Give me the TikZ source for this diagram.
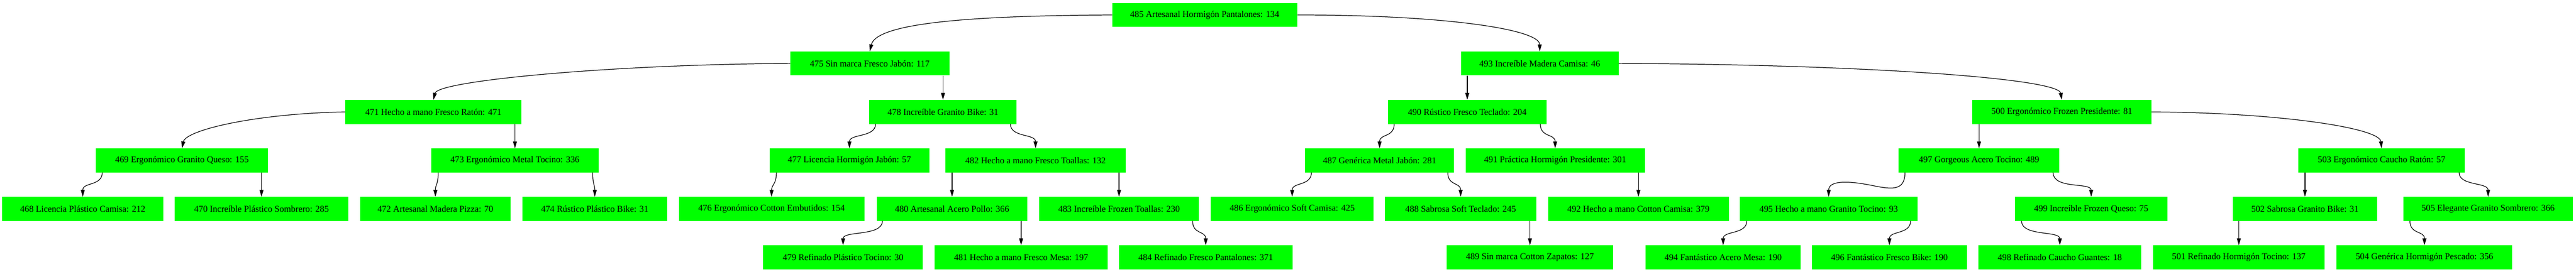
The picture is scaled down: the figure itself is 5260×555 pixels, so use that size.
\documentclass[tikz,border=0pt]{standalone}
\usepackage{fontspec}
\setmainfont{Liberation Serif}
\usetikzlibrary{arrows.meta}
\tikzset{
  gbox/.style={rectangle, fill={rgb,255:red,0;green,255;blue,0}, draw=none,
    minimum height=49pt, inner sep=0pt, text=black,
    font=\fontsize{18.3}{20}\selectfont},
  conn/.style={draw=black, line width=1.3pt, -{Triangle[length=14pt,width=8pt]}},
}
\newcommand\gnode[5]{\node[gbox, minimum width=#4pt] (#1) at (#2,#3) {#5};}
\begin{document}
\begin{tikzpicture}[x=1pt,y=-1pt]
\useasboundingbox (0,0) rectangle (5260,555);
% row 0
\gnode{n485}{2460}{30.5}{378}{485 Artesanal Hormigón Pantalones: 134}
% row 1
\gnode{n475}{1776}{129.5}{325}{475 Sin marca Fresco Jabón: 117}
\gnode{n493}{3144}{129.5}{322}{493 Increíble Madera Camisa: 46}
% row 2
\gnode{n471}{885}{228.5}{360}{471 Hecho a mano Fresco Ratón: 471}
\gnode{n478}{1925.5}{228.5}{301}{478 Increíble Granito Bike: 31}
\gnode{n490}{2996}{228.5}{324}{490 Rústico Fresco Teclado: 204}
\gnode{n500}{4210}{228.5}{366}{500 Ergonómico Frozen Presidente: 81}
% row 3
\gnode{n469}{371.5}{327.5}{351}{469 Ergonómico Granito Queso: 155}
\gnode{n473}{1051.5}{327.5}{341}{473 Ergonómico Metal Tocino: 336}
\gnode{n477}{1734.5}{327.5}{326}{477 Licencia Hormigón Jabón: 57}
\gnode{n482}{2114.5}{327.5}{368}{482 Hecho a mano Fresco Toallas: 132}
\gnode{n487}{2817}{327.5}{304}{487 Genérica Metal Jabón: 281}
\gnode{n491}{3175.5}{327.5}{366}{491 Práctica Hormigón Presidente: 301}
\gnode{n497}{4041}{327.5}{328}{497 Gorgeous Acero Tocino: 489}
\gnode{n503}{4863}{327.5}{340}{503 Ergonómico Caucho Ratón: 57}
% row 4
\gnode{n468}{169}{426.5}{330}{468 Licencia Plástico Camisa: 212}
\gnode{n470}{534}{426.5}{354}{470 Increíble Plástico Sombrero: 285}
\gnode{n472}{889}{426.5}{308}{472 Artesanal Madera Pizza: 70}
\gnode{n474}{1214.5}{426.5}{295}{474 Rústico Plástico Bike: 31}
\gnode{n476}{1575.5}{426.5}{379}{476 Ergonómico Cotton Embutidos: 154}
\gnode{n480}{1944}{426.5}{308}{480 Artesanal Acero Pollo: 366}
\gnode{n483}{2285}{426.5}{326}{483 Increíble Frozen Toallas: 230}
\gnode{n486}{2638.5}{426.5}{333}{486 Ergonómico Soft Camisa: 425}
\gnode{n488}{2982.5}{426.5}{309}{488 Sabrosa Soft Teclado: 245}
\gnode{n492}{3345.5}{426.5}{369}{492 Hecho a mano Cotton Camisa: 379}
\gnode{n495}{3734}{426.5}{362}{495 Hecho a mano Granito Tocino: 93}
\gnode{n499}{4270}{426.5}{312}{499 Increíble Frozen Queso: 75}
\gnode{n502}{4706.5}{426.5}{295}{502 Sabrosa Granito Bike: 31}
\gnode{n505}{5080.5}{426.5}{347}{505 Elegante Granito Sombrero: 366}
% row 5
\gnode{n479}{1721.5}{525.5}{326}{479 Refinado Plástico Tocino: 30}
\gnode{n481}{2085}{525.5}{353}{481 Hecho a mano Fresco Mesa: 197}
\gnode{n484}{2462}{525.5}{354}{484 Refinado Fresco Pantalones: 371}
\gnode{n489}{3124}{525.5}{340}{489 Sin marca Cotton Zapatos: 127}
\gnode{n494}{3518.5}{525.5}{317}{494 Fantástico Acero Mesa: 190}
\gnode{n496}{3858}{525.5}{316}{496 Fantástico Fresco Bike: 190}
\gnode{n498}{4206}{525.5}{333}{498 Refinado Caucho Guantes: 18}
\gnode{n501}{4571.5}{525.5}{351}{501 Refinado Hormigón Tocino: 137}
\gnode{n504}{4950.5}{525.5}{359}{504 Genérica Hormigón Pescado: 356}
% edges level 0-1
\draw[conn] (n485.west) .. controls +(-271,1.5) and +(14,-60) .. (n475.north);
\draw[conn] (n485.east) .. controls +(300,0) and +(0,-45) .. (n493.north);
% level 1-2
\draw[conn] (n475.west) .. controls +(-364,2) and +(9,-39) .. (n471.north);
\draw[conn] (n478.north |- n475.south) -- (n478.north);
\draw[conn] (n490.north |- n493.south) -- (n490.north);
\draw[conn] (n493.east) .. controls +(495,2) and +(-7,-44) .. (n500.north);
% level 2-3
\draw[conn] (n471.west) .. controls +(-185,3.5) and +(8,-37) .. (n469.north);
\draw[conn] (n473.north |- n471.south) -- (n473.north);
\draw[conn] ([xshift=13pt]n478.south west) .. controls +(0,28) and +(0,-30) .. (n477.north);
\draw[conn] ([xshift=-13pt]n478.south east) .. controls +(0,28) and +(0,-30) .. (n482.north);
\draw[conn] ([xshift=13pt]n490.south west) .. controls +(0,28) and +(0,-30) .. (n487.north);
\draw[conn] ([xshift=-13pt]n490.south east) .. controls +(0,28) and +(0,-30) .. (n491.north);
\draw[conn] (n497.north |- n500.south) -- (n497.north);
\draw[conn] (n500.east) .. controls +(257,1.5) and +(-4,-42) .. (n503.north);
% level 3-4
\draw[conn] ([xshift=13pt]n469.south west) .. controls +(0,28) and +(0,-30) .. (n468.north);
\draw[conn] (n470.north |- n469.south) -- (n470.north);
\draw[conn] ([xshift=14pt]n473.south west) .. controls +(0,25) and +(0,-25) .. (n472.north);
\draw[conn] ([xshift=-12pt]n473.south east) .. controls +(0,25) and +(0,-25) .. (n474.north);
\draw[conn] ([xshift=14pt]n477.south west) .. controls +(0,25) and +(0,-25) .. (n476.north);
\draw[conn] (n480.north |- n482.south) -- (n480.north);
\draw[conn] (n483.north |- n482.south) -- (n483.north);
\draw[conn] ([xshift=13pt]n487.south west) .. controls +(0,28) and +(0,-30) .. (n486.north);
\draw[conn] ([xshift=-13pt]n487.south east) .. controls +(0,28) and +(0,-30) .. (n488.north);
\draw[conn] (n492.north |- n491.south) -- (n492.north);
\draw[conn] ([xshift=13pt]n497.south west) .. controls +(0,40) and +(40,8) .. ++(-70,26)
  .. controls +(-40,-8) and +(0,-35) .. (n495.north);
\draw[conn] ([xshift=-13pt]n497.south east) .. controls +(0,35) and +(0,-30) .. (n499.north);
\draw[conn] (n502.north |- n503.south) -- (n502.north);
\draw[conn] ([xshift=-12pt]n503.south east) .. controls +(0,28) and +(0,-30) .. (n505.north);
% level 4-5
\draw[conn] ([xshift=12pt]n480.south west) .. controls +(0,32) and +(0,-30) .. (n479.north);
\draw[conn] (n481.north |- n480.south) -- (n481.north);
\draw[conn] ([xshift=-13pt]n483.south east) .. controls +(0,28) and +(0,-30) .. (n484.north);
\draw[conn] (n489.north |- n488.south) -- (n489.north);
\draw[conn] ([xshift=14pt]n495.south west) .. controls +(0,28) and +(0,-30) .. (n494.north);
\draw[conn] ([xshift=-14pt]n495.south east) .. controls +(0,28) and +(0,-30) .. (n496.north);
\draw[conn] ([xshift=14pt]n499.south west) .. controls +(0,32) and +(0,-30) .. (n498.north);
\draw[conn] (n501.north |- n502.south) -- (n501.north);
\draw[conn] ([xshift=14pt]n505.south west) .. controls +(0,28) and +(0,-30) .. (n504.north);
\end{tikzpicture}
\end{document}
